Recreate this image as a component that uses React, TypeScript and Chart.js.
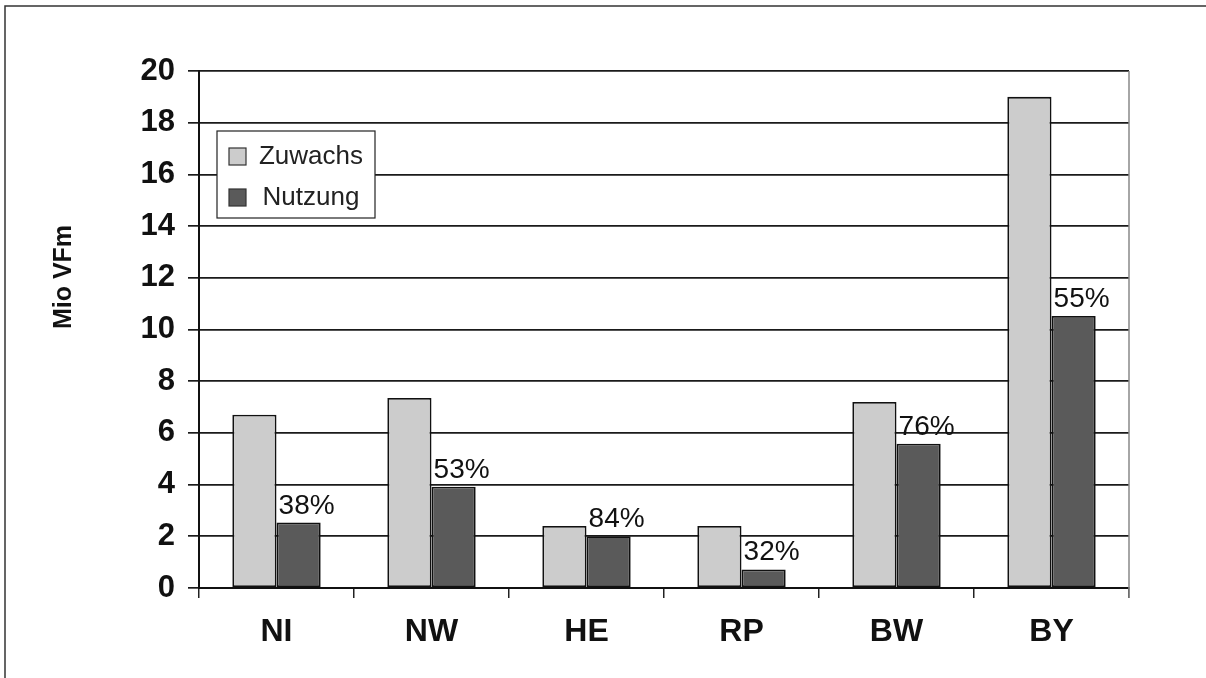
import React, { useEffect, useRef } from "react";
import { Chart, registerables } from "chart.js";

Chart.register(...registerables);

const categories = ["NI", "NW", "HE", "RP", "BW", "BY"];
const zuwachs = [6.7, 7.35, 2.4, 2.4, 7.2, 19.0];
const nutzung = [2.53, 3.92, 2.0, 0.72, 5.58, 10.52];
const percentLabels = ["38%", "53%", "84%", "32%", "76%", "55%"];
const seriesNames = ["Zuwachs", "Nutzung"];
const yTicks = [0, 2, 4, 6, 8, 10, 12, 14, 16, 18, 20];
const yTitle = "Mio VFm";

const FONT = '"Liberation Sans", Arial, Helvetica, sans-serif';
const LIGHT = "#cccccc";
const DARK = "#5a5a5a";

const decorPlugin = {
  id: "decor",
  beforeDraw(chart: any) {
    const ctx = chart.ctx;
    ctx.save();
    ctx.fillStyle = "#ffffff";
    ctx.fillRect(0, 0, chart.width, chart.height);
    ctx.strokeStyle = "#333333";
    ctx.lineWidth = 1.5;
    ctx.beginPath();
    ctx.moveTo(5, chart.height);
    ctx.lineTo(5, 6);
    ctx.lineTo(chart.width, 6);
    ctx.stroke();
    ctx.restore();
  },
  afterDraw(chart: any) {
    const ctx = chart.ctx;
    const area = chart.chartArea;
    ctx.save();
    ctx.strokeStyle = "#888888";
    ctx.lineWidth = 1.5;
    ctx.beginPath();
    ctx.moveTo(area.right, area.top);
    ctx.lineTo(area.right, area.bottom + 10);
    ctx.stroke();

    const meta = chart.getDatasetMeta(1);
    ctx.fillStyle = "#111111";
    ctx.font = `28px ${FONT}`;
    ctx.textAlign = "center";
    ctx.textBaseline = "alphabetic";
    meta.data.forEach((bar: any, i: number) => {
      ctx.fillText(percentLabels[i], bar.x + 8, bar.y - 9);
    });

    ctx.save();
    ctx.translate(64, 277);
    ctx.rotate(-Math.PI / 2);
    ctx.font = `bold 25px ${FONT}`;
    ctx.textAlign = "center";
    ctx.textBaseline = "middle";
    ctx.fillStyle = "#111111";
    ctx.fillText(yTitle, 0, 0);
    ctx.restore();

    const lx = 217, ly = 131, lw = 158, lh = 87;
    ctx.fillStyle = "#ffffff";
    ctx.fillRect(lx, ly, lw, lh);
    ctx.strokeStyle = "#222222";
    ctx.lineWidth = 1.2;
    ctx.strokeRect(lx, ly, lw, lh);
    const colors = [LIGHT, DARK];
    const rows = [156, 197];
    seriesNames.forEach((name, i) => {
      const cy = rows[i];
      ctx.fillStyle = colors[i];
      ctx.fillRect(229, cy - 8, 17, 17);
      ctx.strokeStyle = "#333333";
      ctx.lineWidth = 1.2;
      ctx.strokeRect(229, cy - 8, 17, 17);
      ctx.fillStyle = "#222222";
      ctx.font = `26px ${FONT}`;
      ctx.textAlign = "center";
      ctx.textBaseline = "middle";
      ctx.fillText(name, 311, cy + 1);
    });
    ctx.restore();
  },
};

export default function App() {
  const ref = useRef<HTMLCanvasElement | null>(null);

  useEffect(() => {
    document.body.style.margin = "0";
    const canvas = ref.current;
    if (!canvas) return;
    const chart = new Chart(canvas, {
      type: "bar",
      data: {
        labels: categories,
        datasets: [
          {
            label: seriesNames[0],
            data: zuwachs,
            backgroundColor: LIGHT,
            borderColor: "#111111",
            borderWidth: 1.8,
            borderSkipped: false,
          },
          {
            label: seriesNames[1],
            data: nutzung,
            backgroundColor: DARK,
            borderColor: "#111111",
            borderWidth: 1.8,
            borderSkipped: false,
          },
        ],
      },
      options: {
        responsive: false,
        animation: false,
        devicePixelRatio: 1,
        layout: { padding: { left: 0, top: 71, right: 77, bottom: 0 } },
        plugins: {
          legend: { display: false },
          tooltip: { enabled: false },
        },
        datasets: {
          bar: { categoryPercentage: 0.57, barPercentage: 1.0 },
        },
        scales: {
          x: {
            offset: true,
            grid: {
              offset: true,
              drawOnChartArea: false,
              drawTicks: true,
              tickLength: 10,
              color: "#222222",
              lineWidth: 1.5,
            },
            border: { display: true, color: "#111111", width: 2 },
            ticks: {
              color: "#111111",
              font: { family: FONT, size: 32, weight: "bold" },
              padding: 15,
            },
            afterFit(scale: any) {
              scale.height = 90;
            },
          },
          y: {
            min: 0,
            max: 20,
            afterBuildTicks(scale: any) {
              scale.ticks = yTicks.map((v) => ({ value: v }));
            },
            grid: {
              color: "#1a1a1a",
              lineWidth: 1.7,
              drawTicks: true,
              tickLength: 11,
            },
            border: { display: true, color: "#111111", width: 2 },
            ticks: {
              color: "#111111",
              font: { family: FONT, size: 31, weight: "bold" },
              padding: 13,
            },
            afterFit(scale: any) {
              scale.width = 199;
            },
          },
        },
      },
      plugins: [decorPlugin],
    });
    return () => chart.destroy();
  }, []);

  return (
    <canvas
      ref={ref}
      width={1206}
      height={678}
      style={{ display: "block", position: "absolute", left: 0, top: 0, width: 1206, height: 678 }}
    />
  );
}
